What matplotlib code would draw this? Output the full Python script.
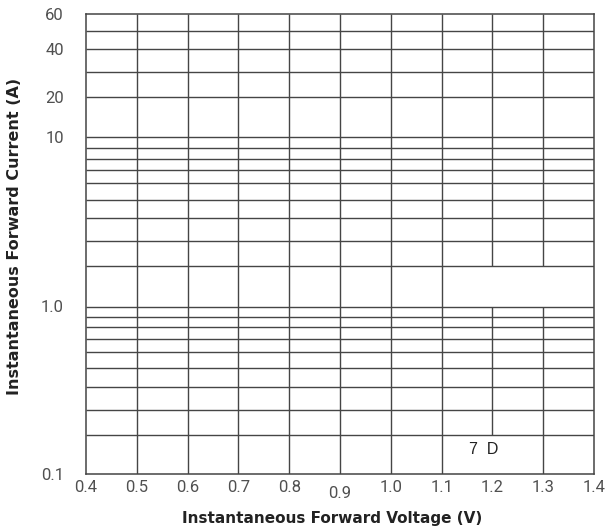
import numpy as np
import matplotlib.pyplot as plt
from matplotlib.transforms import ScaledTranslation

# x axis: forward voltage (V)
x_ticks = [0.4, 0.5, 0.6, 0.7, 0.8, 0.9, 1.0, 1.1, 1.2, 1.3, 1.4]
x_labels = ['0.4', '0.5', '0.6', '0.7', '0.8', '0.9', '1.0', '1.1', '1.2', '1.3', '1.4']

# y axis: forward current (A), printed grid values
y_grid = [0.1, 0.2, 0.3, 0.4, 0.5, 0.6, 0.7, 0.8, 0.9,
          1, 2, 3, 4, 5, 6, 7, 8, 9,
          10, 20, 30, 40, 50, 60]
y_ticks = [0.1, 1, 10, 20, 40, 60]
y_labels = ['0.1', '1.0', '10', '20', '40', '60']

# the printed chart paper is not a true log grid, so the scale follows it
paper_pos = [473.5, 435, 410, 387.3, 368.3, 351.7, 339, 327.3, 316.7,
             306.5, 266, 241, 218, 199.5, 183, 170, 159, 148,
             137, 97, 71.7, 49, 30.7, 14]

log_g = np.log10(y_grid)
neg_pos = -np.array(paper_pos)


def fwd(v):
    v = np.clip(np.asarray(v, dtype=float), 1e-3, None)
    return np.interp(np.log10(v), log_g, neg_pos)


def inv(p):
    return 10 ** np.interp(p, neg_pos, log_g)


# vertical segments (x, y from, y to) - gaps as on the original sheet
v_lines = [(0.5, 0.1, 60), (0.6, 0.1, 60), (0.7, 0.1, 60), (0.8, 0.1, 60),
           (0.9, 0.1, 60), (1.0, 0.1, 60), (1.1, 0.1, 60),
           (1.2, 0.2, 1.0), (1.2, 2, 60),
           (1.3, 0.1, 1.0), (1.3, 2, 60)]

fig = plt.figure(figsize=(6.06, 5.29), dpi=100)
ax = fig.add_axes([86 / 606, 1 - 473.5 / 529, 508 / 606, 459.5 / 529])
ax.set_yscale('function', functions=(fwd, inv))
ax.set_xlim(0.4, 1.4)
ax.set_ylim(0.1, 60)

gc = '#454545'
ax.hlines(y_grid[1:-1], 0.4, 1.4, color=gc, lw=1.0)
for xv, y0, y1 in v_lines:
    ax.vlines(xv, y0, y1, color=gc, lw=1.0)

for s in ax.spines.values():
    s.set_color('#444444')
    s.set_linewidth(1.1)

ax.set_xticks(x_ticks)
ax.set_xticklabels(x_labels)
ax.set_yticks(y_ticks)
ax.set_yticklabels(y_labels)
ax.minorticks_off()
ax.tick_params(axis='both', length=0, labelsize=12, labelcolor='#505050')
ax.tick_params(axis='x', pad=5)
ax.tick_params(axis='y', pad=16)
for lbl in ax.get_xticklabels() + ax.get_yticklabels():
    lbl.set_fontfamily('Roboto')
for lbl in ax.get_xticklabels():
    if lbl.get_text() == '0.9':
        lbl.set_transform(lbl.get_transform() + ScaledTranslation(0, -4 / 72, fig.dpi_scale_trans))

ax.text(1.183, 0.155, '7  D', ha='center', va='center', fontsize=11.5,
        color='#222222', family='Liberation Sans')

fig.text(332 / 606, 1 - 518 / 529, 'Instantaneous Forward Voltage (V)',
         ha='center', va='center', fontsize=11, fontweight='bold',
         color='#222222', family='DejaVu Sans')
fig.text(15 / 606, 1 - 236 / 529, 'Instantaneous Forward Current (A)',
         ha='center', va='center', rotation=90, fontsize=11.5, fontweight='bold',
         color='#222222', family='DejaVu Sans')

fig.savefig('out.png', dpi=100)
